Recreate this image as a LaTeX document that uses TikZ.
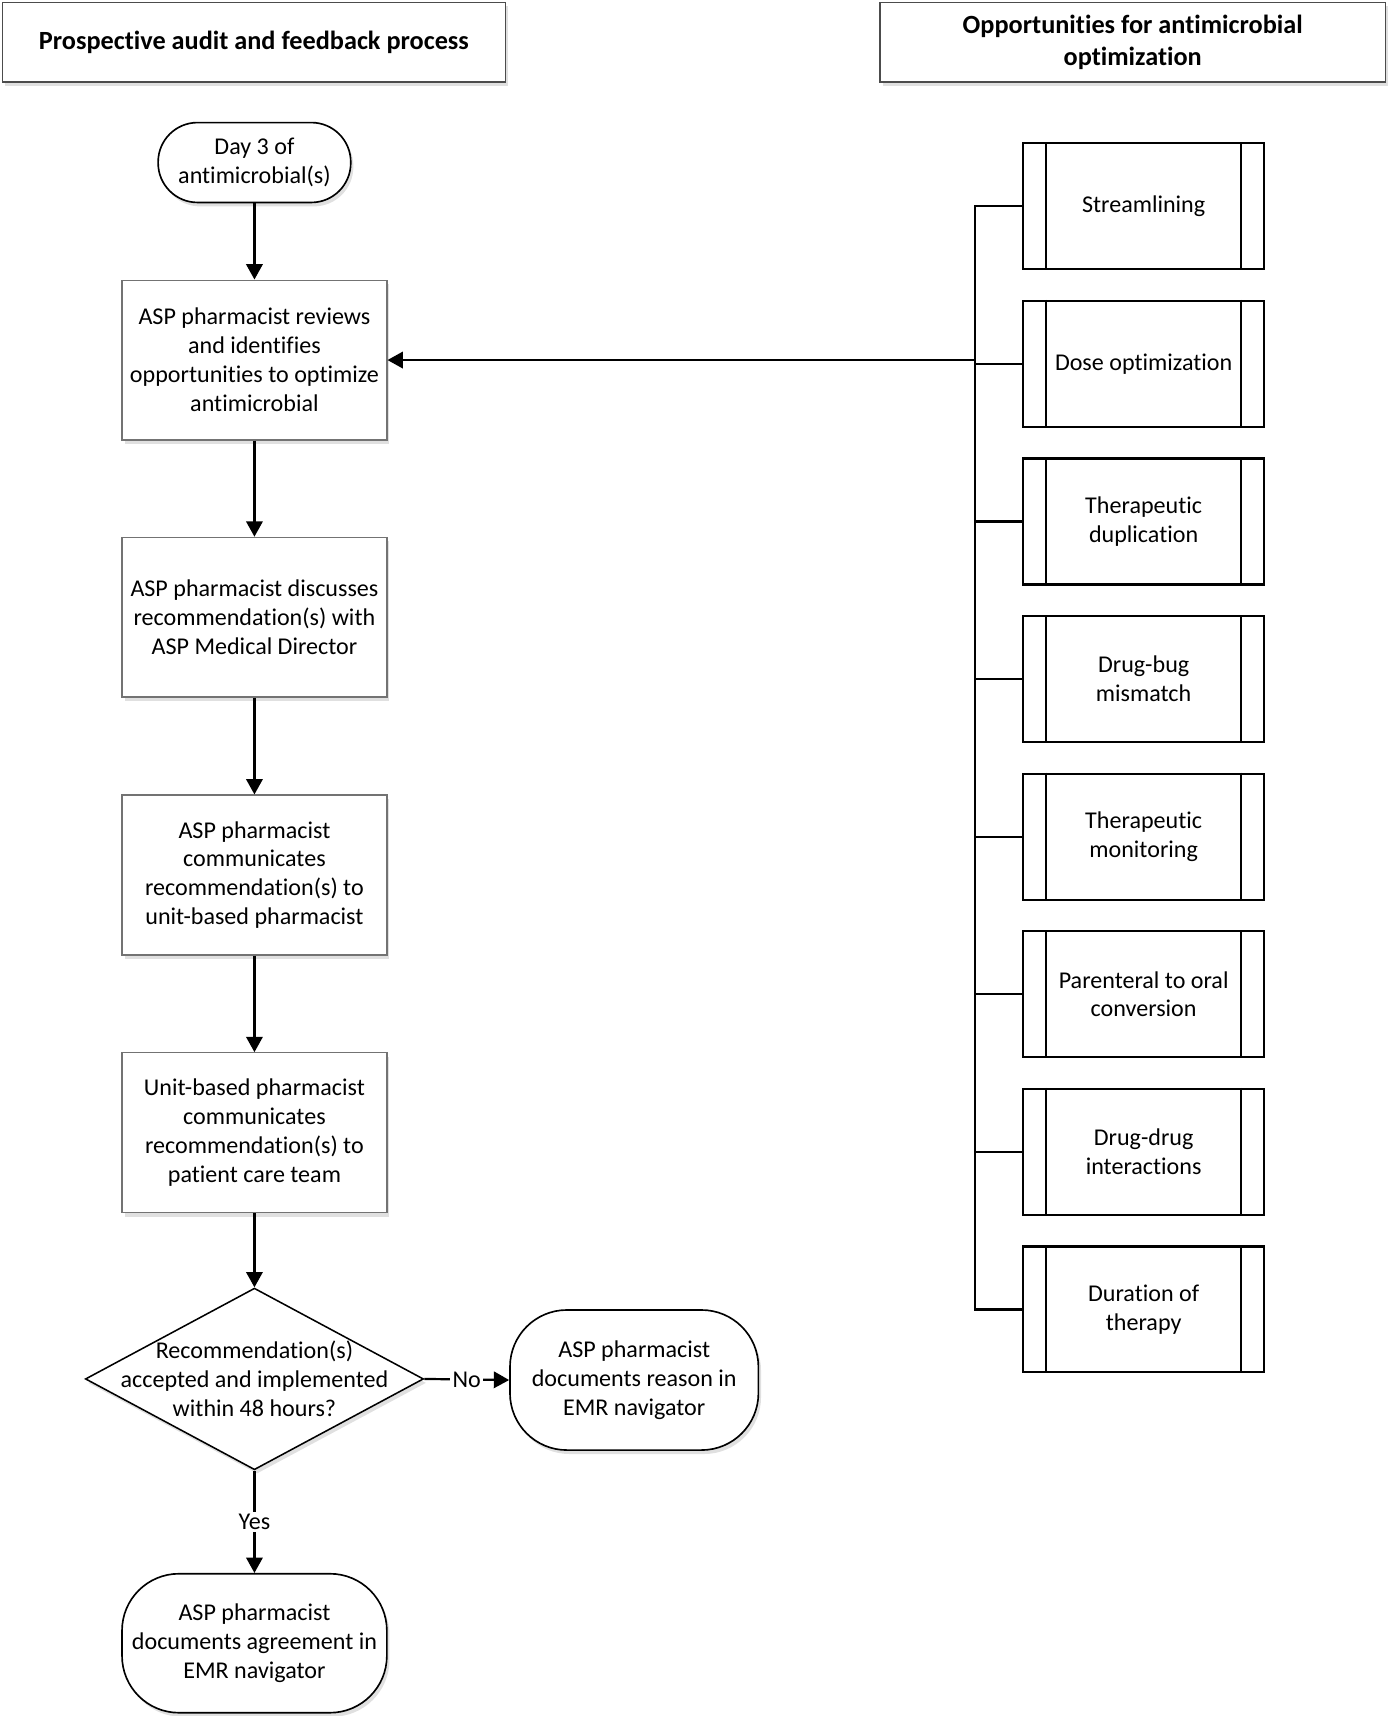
\documentclass[tikz,border=0pt]{standalone}
\usepackage{fontspec}
\setmainfont{Carlito}[Ligatures=NoCommon]
\usetikzlibrary{arrows.meta,shapes.geometric,shadows}
\begin{document}
\begin{tikzpicture}[x=0.5pt,y=-0.5pt,
  txt/.style={font=\fontsize{11}{13.2}\selectfont, align=center},
  shad/.style={drop shadow={shadow xshift=1.2pt, shadow yshift=-1.8pt, fill=black, opacity=0.12}},
  hdr/.style={draw=black!70, line width=0.6pt, minimum height=36.5pt, inner sep=2pt,
    font=\fontsize{12}{14.5}\selectfont\bfseries, align=center, fill=white, shad},
  proc/.style={txt, draw=black!55, line width=0.6pt, fill=white, shad,
    minimum width=121pt, minimum height=73pt, inner sep=2pt},
  term/.style={txt, draw=black, line width=0.75pt, fill=white, shad, inner sep=2pt},
  pp/.style={txt, draw=black, line width=1pt, fill=white,
    minimum width=110pt, minimum height=57.5pt, inner sep=2pt},
  conn/.style={draw=black, line width=1pt},
  arr/.style={conn, -{Triangle[length=7pt,width=7.5pt]}},
  lab/.style={txt, fill=white, inner sep=1pt}
]
\useasboundingbox (0,0) rectangle (1268,1568);

% headers
\node[hdr, minimum width=230pt] (h1) at (232,38.5) {Prospective audit and feedback process};
\node[hdr, minimum width=231pt] (h2) at (1035,38.5) {Opportunities for antimicrobial\\optimization};

% left flow
\node[term, minimum width=88pt, minimum height=36.5pt, rounded corners=18pt] (start) at (232.5,148.5) {Day 3 of\\antimicrobial(s)};
\node[proc] (b1) at (232.5,329) {ASP pharmacist reviews\\and identifies\\opportunities to optimize\\antimicrobial};
\node[proc] (b2) at (232.5,564) {ASP pharmacist discusses\\recommendation(s) with\\ASP Medical Director};
\node[proc] (b3) at (232.5,799.5) {ASP pharmacist\\communicates\\recommendation(s) to\\unit-based pharmacist};
\node[proc] (b4) at (232.5,1035) {Unit-based pharmacist\\communicates\\recommendation(s) to\\patient care team};
\node[diamond, draw=black, line width=0.7pt, fill=white, shad, minimum width=154.5pt, minimum height=83pt, inner sep=0pt] (dec) at (232.5,1260) {};
\node[txt] (dect) at (dec.center) {Recommendation(s)\\accepted and implemented\\within 48 hours?};
\node[term, minimum width=113.5pt, minimum height=64pt, rounded corners=26pt] (no) at (579.5,1261) {ASP pharmacist\\documents reason in\\EMR navigator};
\node[term, minimum width=121pt, minimum height=63.5pt, rounded corners=26pt] (yes) at (232.5,1501.5) {ASP pharmacist\\documents agreement in\\EMR navigator};

\draw[arr] (start) -- (b1);
\draw[arr] (b1) -- (b2);
\draw[arr] (b2) -- (b3);
\draw[arr] (b3) -- (b4);
\draw[arr] (b4) -- (dec);
\draw[arr] (dec.east) -- node[lab] (nolab) {No} (no.west);
\draw[arr] (dec.south) -- node[lab] (yeslab) {Yes} (yes.north);

% right column
\foreach \t [count=\i] in {Streamlining, Dose optimization, {Therapeutic\\duplication}, {Drug-bug\\mismatch}, {Therapeutic\\monitoring}, {Parenteral to oral\\conversion}, {Drug-drug\\interactions}, {Duration of\\therapy}}{
  \node[pp] (s\i) at (1045,{188.5+(\i-1)*144}) {\t};
  \draw[line width=1pt] ([xshift=11pt]s\i.north west) -- ([xshift=11pt]s\i.south west);
  \draw[line width=1pt] ([xshift=-11pt]s\i.north east) -- ([xshift=-11pt]s\i.south east);
}
\coordinate (bt) at (891,188.5);
\draw[conn] (s1.west) -| (s8.west -| bt) -- (s8.west);
\foreach \i in {2,...,7}{
  \draw[conn] (s\i.west) -- (s\i.west -| bt);
}
\draw[arr] (b1.east -| bt) -- (b1.east);
\end{tikzpicture}
\end{document}
